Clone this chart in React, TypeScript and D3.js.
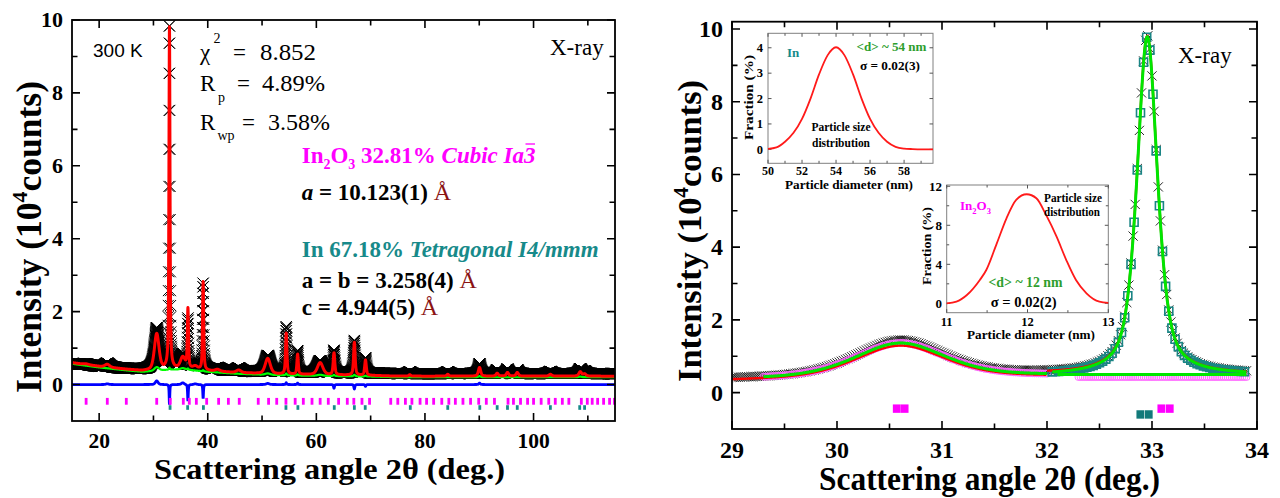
import React from "react";
import * as d3 from "d3";

const SERIF = "'Liberation Serif','Times New Roman',Times,serif";
const SANS = "'Liberation Sans',Arial,sans-serif";

// ================= LEFT PANEL (full pattern 15–115°) =================
const leftXTicks = [20, 40, 60, 80, 100];
const leftXMinor = [30, 50, 70, 90, 110];
const leftYTicks = [0, 2, 4, 6, 8, 10];
const leftYMinor = [1, 3, 5, 7, 9];

// background read at these angles
const bgAngle = [15, 20, 25, 28, 30, 33, 36, 40, 45, 50, 55, 60, 65, 70, 75, 80, 90, 100, 115];
const bgCalc = [0.6, 0.5, 0.42, 0.38, 0.4, 0.44, 0.44, 0.38, 0.33, 0.3, 0.28, 0.27, 0.26, 0.25, 0.23, 0.23, 0.23, 0.23, 0.23];
const bgObs = [0.58, 0.5, 0.44, 0.42, 0.44, 0.47, 0.47, 0.42, 0.37, 0.35, 0.33, 0.32, 0.31, 0.31, 0.3, 0.3, 0.3, 0.3, 0.3];

// reflections: position, phase (0 = In2O3, 1 = In), width, heights
const peakAngle = [17.6, 21.5, 30.6, 32.95, 35.4, 36.35, 37.7, 39.15, 41.8, 45.7, 51.05, 54.45, 56.55, 60.7, 63.25, 67.0, 69.05, 77.2, 84.2, 90.05, 93.3, 95.2, 97.0, 103.1, 108.6, 109.4];
const peakPhase = [0, 0, 0, 1, 0, 1, 0, 1, 0, 0, 0, 1, 1, 0, 1, 1, 1, 1, 1, 1, 1, 1, 1, 1, 1, 1];
const peakFwhm = [1.0, 1.0, 1.0, 0.23, 1.0, 0.25, 1.0, 0.25, 1.0, 1.0, 1.1, 0.3, 0.3, 1.2, 0.35, 0.35, 0.35, 0.4, 0.45, 0.5, 0.5, 0.5, 0.5, 0.6, 0.6, 0.6];
const calcH = [0.02, 0.08, 0.98, 9.35, 0.3, 1.62, 0.08, 2.42, 0.05, 0.07, 0.42, 1.12, 0.55, 0.33, 0.6, 0.9, 0.42, 0.04, 0.05, 0.24, 0.08, 0.1, 0.1, 0.05, 0.12, 0.06];
const obsH = [0.02, 0.1, 1.1, 9.4, 0.35, 1.3, 0.1, 2.35, 0.06, 0.08, 0.45, 1.25, 0.6, 0.33, 0.62, 0.9, 0.42, 0.05, 0.05, 0.27, 0.1, 0.12, 0.1, 0.06, 0.13, 0.06];
const greenH = [0, 0, 0.1, 0.05, 0.04, 0.03, 0, 0.03, 0, 0, 0.04, 0.05, 0.03, 0.03, 0.03, 0.04, 0.02, 0, 0, 0.03, 0, 0, 0, 0, 0.02, 0];
const diffH = [0, 0.02, 0.1, -0.55, 0.05, -0.45, 0.02, -0.38, 0, 0, 0.03, 0.05, 0.04, 0, -0.1, -0.12, -0.05, 0, 0, 0.04, 0, 0, 0, 0, 0, 0];

// Bragg positions
const braggIn2O3 = [17.6, 21.5, 25.0, 30.6, 33.1, 35.5, 36.6, 37.9, 39.8, 42.0, 43.8, 45.8, 49.3, 51.2, 52.7, 54.4, 56.1, 57.6, 59.2, 60.7, 62.2, 64.1, 65.7, 66.9, 68.4, 69.8, 73.7, 75.0, 76.4, 77.6, 79.1, 80.3, 81.6, 83.1, 84.4, 85.6, 87.0, 88.4, 89.9, 91.3, 92.8, 95.3, 96.3, 97.6, 98.9, 100.0, 101.4, 102.8, 104.0, 105.3, 106.5, 108.8, 109.9, 110.8, 111.8, 112.9, 114.0, 114.9];
const braggIn = [33.06, 36.3, 39.2, 54.4, 56.6, 63.3, 67.0, 69.0, 77.3, 84.2, 90.1, 93.3, 95.2, 97.0, 103.1, 108.5, 109.4];
const braggIn2O3Level = -0.46;
const braggInLevel = -0.63;

// ================= RIGHT PANEL (zoom 29–34°) =================
const rightXTicks = [29, 30, 31, 32, 33, 34];
const rightXMinor = [29.5, 30.5, 31.5, 32.5, 33.5];
const rightYTicks = [0, 2, 4, 6, 8, 10];
const rightYMinor = [1, 3, 5, 7, 9];

const rBgAngle = [29, 30, 31, 32, 33, 34];
const rBgCalc = [0.37, 0.42, 0.46, 0.48, 0.49, 0.49];
const rBgObs = [0.38, 0.43, 0.47, 0.5, 0.51, 0.51];
const rPeakAngle = [30.6, 32.955];
const rPeakFwhm = [1.0, 0.23];
const rPeakEta = [0.4, 0.6];
const rObsH = [0.98, 9.3];
const rIn2O3H = [0.92, 0];
const rInH = [0, 9.3];
const rCalcLowH = [0.88, 0]; // red below 32°
const rCalcLowOffset = -0.03;
const rCalcHighH = [0.92, 9.3]; // red above 32°
const rSplit = 32.0;
const rIn2O3Range = [29.3, 32.0];
const rIn2O3Tail = [32.3, 33.9];
const rIn2O3TailLevel = 0.43;
const rInRange = [32.05, 33.9];
const rGreenFlatRange = [32.1, 33.9];
const rGreenFlatLevel = 0.5;
const rObsRange = [29.0, 33.9];
const rBraggIn2O3 = [30.57, 30.645, 33.09, 33.17];
const rBraggIn = [32.89, 32.97];
const rBraggIn2O3Level = -0.44;
const rBraggInLevel = -0.6;

// ================= INSETS =================
const inset1X = [50, 50.5, 51, 51.5, 52, 52.5, 53, 53.5, 54, 54.5, 55, 55.5, 56, 56.5, 57, 57.5, 58, 58.5, 59, 59.7];
const inset1Y = [0.02, 0.08, 0.3, 0.65, 1.2, 2.0, 2.95, 3.7, 4.02, 3.7, 2.95, 2.0, 1.2, 0.65, 0.3, 0.1, 0.03, 0.01, 0.0, 0.0];
const inset1XTicks = [50, 52, 54, 56, 58];
const inset1XMinor = [51, 53, 55, 57, 59];
const inset1YTicks = [0, 1, 2, 3, 4];

const inset2X = [11.0, 11.12, 11.25, 11.41, 11.49, 11.62, 11.74, 11.86, 11.99, 12.11, 12.23, 12.36, 12.48, 12.6, 12.73, 12.89, 13.0];
const inset2Y = [0.0, 0.17, 0.85, 2.39, 3.42, 6.15, 8.72, 10.6, 11.18, 10.77, 9.06, 6.83, 4.44, 2.39, 1.03, 0.17, 0.05];
const inset2XTicks = [11, 12, 13];
const inset2XMinor = [11.5, 12.5];
const inset2YTicks = [0, 4, 8, 12];
const inset2YMinor = [2, 6, 10];

// ---------- helpers ----------
function shape(x: number, c: number, w: number, eta: number) {
  const d = (x - c) / (w / 2);
  const d2 = d * d;
  return eta / (1 + d2) + (1 - eta) * Math.exp(-Math.LN2 * d2);
}
function sumLeft(x: number, h: number[], ws = 1) {
  let s = 0;
  for (let i = 0; i < peakAngle.length; i++) {
    if (h[i] === 0) continue;
    s += h[i] * shape(x, peakAngle[i], peakFwhm[i] * ws, peakPhase[i] === 1 ? 0.6 : 0.4);
  }
  return s;
}
function sumRight(x: number, h: number[]) {
  let s = 0;
  for (let i = 0; i < rPeakAngle.length; i++) {
    if (h[i] === 0) continue;
    s += h[i] * shape(x, rPeakAngle[i], rPeakFwhm[i], rPeakEta[i]);
  }
  return s;
}
const f1 = (v: number) => Math.round(v * 10) / 10;
function crossPath(pts: [number, number][], a: number) {
  let s = "";
  for (const [x, y] of pts) {
    s += `M${f1(x - a)},${f1(y - a)}L${f1(x + a)},${f1(y + a)}M${f1(x - a)},${f1(y + a)}L${f1(x + a)},${f1(y - a)}`;
  }
  return s;
}
function circlePath(pts: [number, number][], r: number) {
  let s = "";
  for (const [x, y] of pts) {
    s += `M${f1(x - r)},${f1(y)}a${r},${r} 0 1,0 ${2 * r},0a${r},${r} 0 1,0 ${-2 * r},0`;
  }
  return s;
}
function squarePath(pts: [number, number][], a: number) {
  let s = "";
  for (const [x, y] of pts) {
    s += `M${f1(x - a)},${f1(y - a)}h${2 * a}v${2 * a}h${-2 * a}Z`;
  }
  return s;
}

// ---------- scales ----------
const xL = d3.scaleLinear().domain([15, 115]).range([72, 615]);
const yL = d3.scaleLinear().domain([-1, 10]).range([421, 20]);
const bgCalcF = d3.scaleLinear().domain(bgAngle).range(bgCalc);
const bgObsF = d3.scaleLinear().domain(bgAngle).range(bgObs);

const xR = d3.scaleLinear().domain([29, 34]).range([732, 1257]);
const yR = d3.scaleLinear().domain([-1, 10.2]).range([429, 21.7]);
const rBgCalcF = d3.scaleLinear().domain(rBgAngle).range(rBgCalc);
const rBgObsF = d3.scaleLinear().domain(rBgAngle).range(rBgObs);

const xI1 = d3.scaleLinear().domain([50, 59.7]).range([768, 933]);
const yI1 = d3.scaleLinear().domain([-0.55, 4.57]).range([163.3, 33.3]);
const xI2 = d3.scaleLinear().domain([11, 13]).range([946.7, 1108.3]);
const yI2 = d3.scaleLinear().domain([-0.96, 12.13]).range([312.7, 185]);

// ---------- left computed paths ----------
const gridFine = d3.range(15, 115.0001, 0.01);
const gridObs = d3.range(15, 115.0001, 0.02);
const lineL = (fn: (a: number) => number) =>
  d3.line<number>().x((a) => xL(a)).y((a) => yL(fn(a)))(gridFine) || "";
const leftCalcPath = lineL((a) => bgCalcF(a) + sumLeft(a, calcH));
const leftGreenPath = lineL((a) => bgCalcF(a) - 0.03 + sumLeft(a, greenH));
const leftDiffPath = lineL((a) => sumLeft(a, diffH, 0.6));
const leftObsPath = crossPath(
  gridObs.map((a) => [xL(a), yL(bgObsF(a) + sumLeft(a, obsH))] as [number, number]),
  5.5
);

// ---------- right computed paths ----------
const rangeR = (r: number[], step: number) => d3.range(r[0], r[1] + 1e-6, step);
const lineR = (grid: number[], fn: (a: number) => number) =>
  d3.line<number>().x((a) => xR(a)).y((a) => yR(fn(a)))(grid) || "";
const rObsFn = (a: number) => rBgObsF(a) + sumRight(a, rObsH);
const rIn2O3Fn = (a: number) => rBgCalcF(a) + sumRight(a, rIn2O3H);
const rInFn = (a: number) => rBgCalcF(a) + sumRight(a, rInH);
const rCalcFn = (a: number) =>
  a < rSplit ? rBgCalcF(a) + rCalcLowOffset + sumRight(a, rCalcLowH) : rBgCalcF(a) + sumRight(a, rCalcHighH);

const rObsPts = rangeR(rObsRange, 0.02).map((a) => [xR(a), yR(rObsFn(a))] as [number, number]);
const rIn2O3Pts = rangeR(rIn2O3Range, 0.02)
  .map((a) => [xR(a), yR(rIn2O3Fn(a))] as [number, number])
  .concat(rangeR(rIn2O3Tail, 0.02).map((a) => [xR(a), yR(rIn2O3TailLevel)] as [number, number]));
const rInPts = rangeR(rInRange, 0.03).map((a) => [xR(a), yR(rInFn(a))] as [number, number]);
const rRedPath =
  lineR(rangeR([rObsRange[0], rSplit - 0.005], 0.005), rCalcFn) +
  lineR(rangeR([rSplit, rObsRange[1]], 0.005), rCalcFn);
const rGreen1 = lineR(rangeR(rIn2O3Range, 0.005), rIn2O3Fn);
const rGreen2 = lineR(rangeR(rInRange, 0.003), rInFn);
const rGreen3 = lineR(rGreenFlatRange, () => rGreenFlatLevel);

// ---------- small components ----------
function Frame({ x0, x1, y0, y1, sw = 1.8, stroke = "#000" }: any) {
  return <rect x={x0} y={y1} width={x1 - x0} height={y0 - y1} fill="none" stroke={stroke} strokeWidth={sw} />;
}

function Ticks({ xs, xMinor, ys, yMinor, sx, sy, x0, x1, y0, y1, major, minor, sw, stroke }: any) {
  const segs: string[] = [];
  (xs || []).forEach((v: number) => {
    const p = sx(v);
    segs.push(`M${p},${y0}V${y0 - major}M${p},${y1}V${y1 + major}`);
  });
  (xMinor || []).forEach((v: number) => {
    const p = sx(v);
    segs.push(`M${p},${y0}V${y0 - minor}M${p},${y1}V${y1 + minor}`);
  });
  (ys || []).forEach((v: number) => {
    const p = sy(v);
    segs.push(`M${x0},${p}H${x0 + major}M${x1},${p}H${x1 - major}`);
  });
  (yMinor || []).forEach((v: number) => {
    const p = sy(v);
    segs.push(`M${x0},${p}H${x0 + minor}M${x1},${p}H${x1 - minor}`);
  });
  return <path d={segs.join("")} stroke={stroke || "#000"} strokeWidth={sw || 1.6} fill="none" />;
}

const teal = "#178a8a";
const magenta = "#ff00ff";
const angRed = "#8b1414";
const dGreen = "#2e9e2e";

export default function App() {
  const L = { x0: 72, x1: 615, y0: 421, y1: 20 };
  const R = { x0: 732, x1: 1257, y0: 429, y1: 21.7 };

  return (
    <svg
      width={1280}
      height={498}
      viewBox="0 0 1280 498"
      style={{ position: "absolute", left: 0, top: 0, display: "block" }}
      fontFamily={SERIF}
    >
      <rect x={0} y={0} width={1280} height={498} fill="#fff" />
      <defs>
        <clipPath id="clipL">
          <rect x={L.x0} y={L.y1} width={L.x1 - L.x0} height={L.y0 - L.y1} />
        </clipPath>
        <clipPath id="clipR">
          <rect x={R.x0} y={R.y1} width={R.x1 - R.x0} height={R.y0 - R.y1} />
        </clipPath>
      </defs>

      {/* ================= LEFT PANEL ================= */}
      <g clipPath="url(#clipL)">
        <path d={leftObsPath} stroke="#000" strokeWidth={1} fill="none" />
        <path d={leftGreenPath} stroke="#00ff00" strokeWidth={2.2} fill="none" />
        <path d={leftCalcPath} stroke="#ff0000" strokeWidth={3} fill="none" strokeLinejoin="round" />
        <path d={leftDiffPath} stroke="#0000ff" strokeWidth={2.8} fill="none" />
        {braggIn2O3.map((a, i) => (
          <rect key={"bm" + i} x={xL(a) - 1.4} y={yL(braggIn2O3Level) - 3.4} width={2.8} height={6.8} fill={magenta} />
        ))}
        {braggIn.map((a, i) => (
          <rect key={"bt" + i} x={xL(a) - 1.4} y={yL(braggInLevel) - 2.3} width={2.8} height={4.6} fill={teal} />
        ))}
      </g>
      <Frame {...L} />
      <Ticks xs={leftXTicks} xMinor={leftXMinor} ys={leftYTicks} yMinor={leftYMinor} sx={xL} sy={yL} {...L} major={8} minor={5.5} />
      {leftXTicks.map((v) => (
        <text key={"lx" + v} x={xL(v)} y={447.5} textAnchor="middle" fontSize={21.5} fontWeight="bold">
          {v}
        </text>
      ))}
      {leftYTicks.map((v) => (
        <text key={"ly" + v} x={63} y={yL(v) + 7.4} textAnchor="end" fontSize={22} fontWeight="bold">
          {v}
        </text>
      ))}
      <text x={329.5} y={479} textAnchor="middle" fontSize={29} fontWeight="bold" textLength={351} lengthAdjust="spacingAndGlyphs">
        Scattering angle 2θ (deg.)
      </text>
      <text transform="translate(41,237) rotate(-90)" textAnchor="middle" fontSize={36} fontWeight="bold" textLength={312} lengthAdjust="spacingAndGlyphs">
        Intensity (10<tspan dy={-14} fontSize={22}>4</tspan>
        <tspan dy={14}>counts)</tspan>
      </text>

      {/* left annotations */}
      <text x={93} y={57} fontFamily={SANS} fontSize={19}>300 K</text>
      <text x={550} y={54.5} fontSize={23}>X-ray</text>

      <text x={200} y={59.5} fontSize={23}>χ</text>
      <text x={213.5} y={43} fontSize={14}>2</text>
      <text x={233} y={59.5} fontSize={23}>=</text>
      <text x={260} y={59.5} fontSize={23} textLength={56} lengthAdjust="spacingAndGlyphs">8.852</text>

      <text x={200} y={90.7} fontSize={23}>R</text>
      <text x={218} y={101.5} fontSize={14}>p</text>
      <text x={237} y={90.7} fontSize={23}>=</text>
      <text x={262} y={90.7} fontSize={23} textLength={63} lengthAdjust="spacingAndGlyphs">4.89%</text>

      <text x={200} y={129.5} fontSize={23}>R</text>
      <text x={217.5} y={139.5} fontSize={14}>wp</text>
      <text x={242} y={129.5} fontSize={23}>=</text>
      <text x={268} y={129.5} fontSize={23} textLength={62} lengthAdjust="spacingAndGlyphs">3.58%</text>

      <text x={301.7} y={163} fontSize={23} fontWeight="bold" fill={magenta}>
        In<tspan dy={6} fontSize={14}>2</tspan>
        <tspan dy={-6}>O</tspan>
        <tspan dy={6} fontSize={14}>3</tspan>
        <tspan dy={-6}> 32.81% </tspan>
        <tspan fontStyle="italic">Cubic Ia3</tspan>
      </text>
      <line x1={525.5} x2={535} y1={144} y2={144} stroke={magenta} strokeWidth={1.3} />
      <text x={301.7} y={200} fontSize={23} fontWeight="bold">
        <tspan fontStyle="italic">a</tspan> = 10.123(1) <tspan fill={angRed} fontWeight="normal" fontSize={24}>Å</tspan>
      </text>
      <text x={301.7} y={256.7} fontSize={23} fontWeight="bold" fill={teal}>
        In 67.18% <tspan fontStyle="italic">Tetragonal I4/mmm</tspan>
      </text>
      <text x={301.7} y={287.5} fontSize={23} fontWeight="bold">
        a = b = 3.258(4) <tspan fill={angRed} fontWeight="normal" fontSize={24}>Å</tspan>
      </text>
      <text x={301.7} y={315} fontSize={23} fontWeight="bold">
        c = 4.944(5) <tspan fill={angRed} fontWeight="normal" fontSize={24}>Å</tspan>
      </text>

      {/* ================= RIGHT PANEL ================= */}
      <g clipPath="url(#clipR)">
        <path d={crossPath(rObsPts, 4.6)} stroke="#111" strokeWidth={0.9} fill="none" />
        <path d={circlePath(rIn2O3Pts, 3.5)} stroke="#ff66ff" strokeWidth={0.9} fill="none" />
        <path d={squarePath(rInPts, 4)} stroke="#1a8585" strokeWidth={1.6} fill="none" />
        <path d={rRedPath} stroke="#ff0000" strokeWidth={2.4} fill="none" />
        <path d={rGreen1} stroke="#00e600" strokeWidth={3} fill="none" />
        <path d={rGreen3} stroke="#00e600" strokeWidth={3} fill="none" />
        <path d={rGreen2} stroke="#00e600" strokeWidth={3} fill="none" />
        {rBraggIn2O3.map((a, i) => (
          <rect key={"rbm" + i} x={xR(a) - 4} y={yR(rBraggIn2O3Level) - 4.2} width={7.8} height={8.4} fill={magenta} />
        ))}
        {rBraggIn.map((a, i) => (
          <rect key={"rbt" + i} x={xR(a) - 4} y={yR(rBraggInLevel) - 4.2} width={7.8} height={8.4} fill="#127a7a" />
        ))}
      </g>
      <Frame {...R} />
      <Ticks xs={rightXTicks} xMinor={rightXMinor} ys={rightYTicks} yMinor={rightYMinor} sx={xR} sy={yR} {...R} major={8} minor={5.5} />
      {rightXTicks.map((v) => (
        <text key={"rx" + v} x={xR(v)} y={458} textAnchor="middle" fontSize={24} fontWeight="bold">
          {v}
        </text>
      ))}
      {rightYTicks.map((v) => (
        <text key={"ry" + v} x={723} y={yR(v) + 8} textAnchor="end" fontSize={24} fontWeight="bold">
          {v}
        </text>
      ))}
      <text x={989.5} y={489.5} textAnchor="middle" fontSize={33} fontWeight="bold" textLength={341} lengthAdjust="spacingAndGlyphs">
        Scattering angle 2θ (deg.)
      </text>
      <text transform="translate(701,231) rotate(-90)" textAnchor="middle" fontSize={34} fontWeight="bold" textLength={302} lengthAdjust="spacingAndGlyphs">
        Intensity (10<tspan dy={-13} fontSize={21}>4</tspan>
        <tspan dy={13}>counts)</tspan>
      </text>
      <text x={1178} y={62.5} fontSize={23}>X-ray</text>

      {/* ================= INSET 1 (In) ================= */}
      <rect x={768} y={33.3} width={165} height={130} fill="#fff" stroke="#808080" strokeWidth={1} />
      <Ticks xs={inset1XTicks} xMinor={inset1XMinor} ys={inset1YTicks} sx={xI1} sy={yI1} x0={768} x1={933} y0={163.3} y1={33.3} major={3.5} minor={2.5} sw={1} stroke="#555" />
      <path
        d={d3.line<number>().x((_, i) => xI1(inset1X[i])).y((v) => yI1(v)).curve(d3.curveMonotoneX)(inset1Y) || ""}
        stroke="#ff1a1a"
        strokeWidth={1.8}
        fill="none"
      />
      {inset1XTicks.map((v) => (
        <text key={"i1x" + v} x={xI1(v)} y={175} textAnchor="middle" fontSize={12} fontWeight="bold">{v}</text>
      ))}
      {inset1YTicks.map((v) => (
        <text key={"i1y" + v} x={763} y={yI1(v) + 4.3} textAnchor="end" fontSize={12.5} fontWeight="bold">{v}</text>
      ))}
      <text x={849} y={188.5} textAnchor="middle" fontSize={12.5} fontWeight="bold" textLength={128} lengthAdjust="spacingAndGlyphs">Particle diameter (nm)</text>
      <text transform="translate(753,97.5) rotate(-90)" textAnchor="middle" fontSize={12.5} fontWeight="bold" textLength={85} lengthAdjust="spacingAndGlyphs">Fraction (%)</text>
      <text x={787} y={57} fontSize={13} fontWeight="bold" fill={teal}>In</text>
      <text x={891.5} y={51} textAnchor="middle" fontSize={13} fontWeight="bold" fill={dGreen} textLength={70} lengthAdjust="spacingAndGlyphs">{"<d> ~ 54 nm"}</text>
      <text x={890} y={70} textAnchor="middle" fontSize={13} fontWeight="bold" textLength={60} lengthAdjust="spacingAndGlyphs">σ = 0.02(3)</text>
      <text x={841} y={130.7} textAnchor="middle" fontSize={12} fontWeight="bold" textLength={59} lengthAdjust="spacingAndGlyphs">Particle size</text>
      <text x={841} y={146.7} textAnchor="middle" fontSize={12} fontWeight="bold" textLength={58} lengthAdjust="spacingAndGlyphs">distribution</text>

      {/* ================= INSET 2 (In2O3) ================= */}
      <rect x={946.7} y={185} width={161.6} height={127.7} fill="#fff" stroke="#808080" strokeWidth={1} />
      <Ticks xs={inset2XTicks} xMinor={inset2XMinor} ys={inset2YTicks} yMinor={inset2YMinor} sx={xI2} sy={yI2} x0={946.7} x1={1108.3} y0={312.7} y1={185} major={3.5} minor={2.5} sw={1} stroke="#555" />
      <path
        d={d3.line<number>().x((_, i) => xI2(inset2X[i])).y((v) => yI2(v)).curve(d3.curveMonotoneX)(inset2Y) || ""}
        stroke="#ff1a1a"
        strokeWidth={1.8}
        fill="none"
      />
      {inset2XTicks.map((v) => (
        <text key={"i2x" + v} x={xI2(v)} y={325.5} textAnchor="middle" fontSize={12.5} fontWeight="bold">{v}</text>
      ))}
      {inset2YTicks.map((v) => (
        <text key={"i2y" + v} x={942} y={yI2(v) + 4.6} textAnchor="end" fontSize={13} fontWeight="bold">{v}</text>
      ))}
      <text x={1031} y={338.5} textAnchor="middle" fontSize={12.5} fontWeight="bold" textLength={128} lengthAdjust="spacingAndGlyphs">Particle diameter (nm)</text>
      <text transform="translate(931,246) rotate(-90)" textAnchor="middle" fontSize={12.5} fontWeight="bold" textLength={78} lengthAdjust="spacingAndGlyphs">Fraction (%)</text>
      <text x={960} y={210} fontSize={13} fontWeight="bold" fill={magenta}>
        In<tspan dy={3.5} fontSize={8.5}>2</tspan>
        <tspan dy={-3.5}>O</tspan>
        <tspan dy={3.5} fontSize={8.5}>3</tspan>
      </text>
      <text x={1073} y={201.7} textAnchor="middle" fontSize={12} fontWeight="bold" textLength={58} lengthAdjust="spacingAndGlyphs">Particle size</text>
      <text x={1072} y={215.7} textAnchor="middle" fontSize={12} fontWeight="bold" textLength={56} lengthAdjust="spacingAndGlyphs">distribution</text>
      <text x={1025.5} y={286.7} textAnchor="middle" fontSize={14} fontWeight="bold" fill={dGreen} textLength={74} lengthAdjust="spacingAndGlyphs">{"<d> ~ 12 nm"}</text>
      <text x={1023.7} y={306.7} textAnchor="middle" fontSize={14} fontWeight="bold" textLength={66} lengthAdjust="spacingAndGlyphs">σ = 0.02(2)</text>
    </svg>
  );
}
